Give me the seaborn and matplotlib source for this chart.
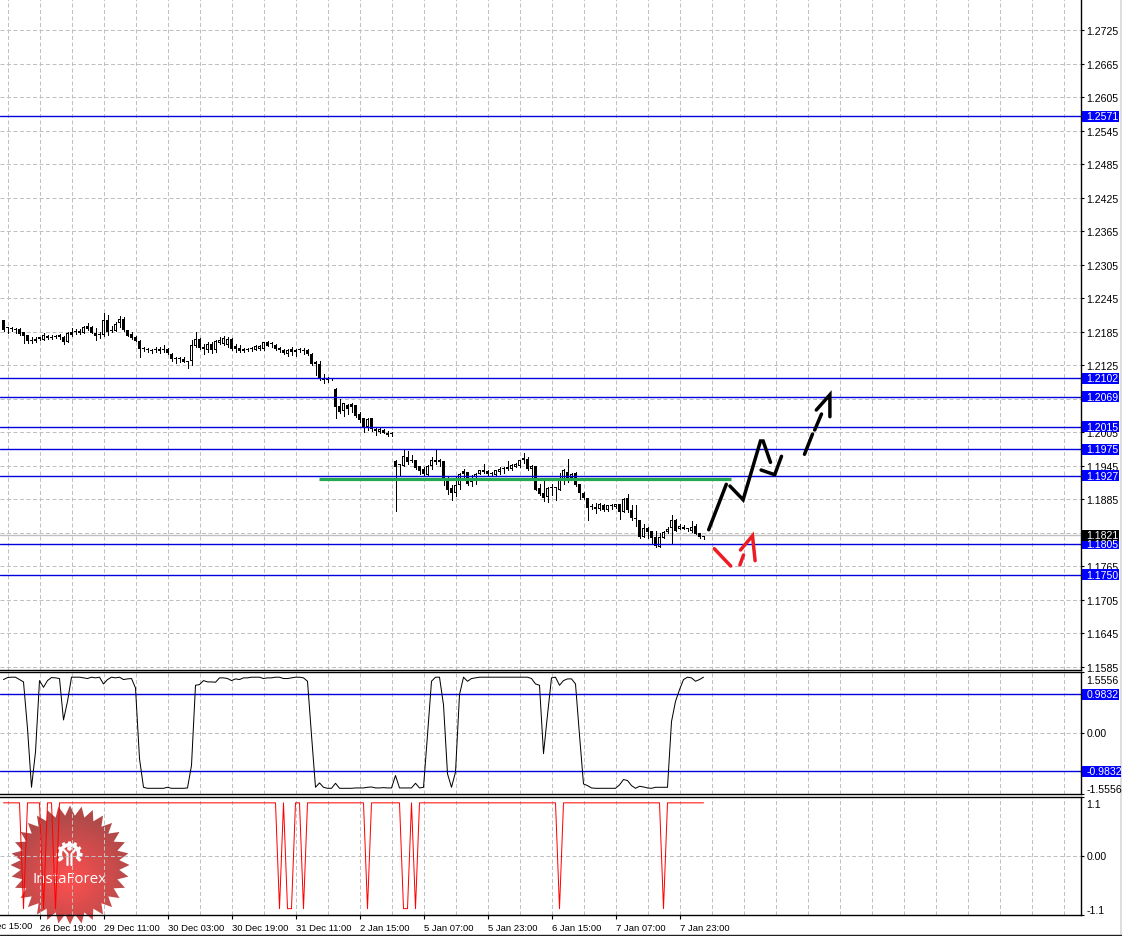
import numpy as np
import pandas as pd
import matplotlib
matplotlib.use("Agg")
import matplotlib.pyplot as plt
import seaborn as sns
from matplotlib.lines import Line2D
from matplotlib.patches import Polygon, Circle, Wedge, Rectangle
from matplotlib.transforms import ScaledTranslation

# hourly candles
opens = [
    1.2206, 1.2191, 1.2190, 1.2189, 1.2190, 1.2184, 1.2179, 1.2171, 1.2169, 1.2175,
    1.2171, 1.2178, 1.2176, 1.2178, 1.2179, 1.2175, 1.2167, 1.2180, 1.2184, 1.2186,
    1.2183, 1.2196, 1.2194, 1.2183, 1.2180, 1.2180, 1.2207, 1.2189, 1.2187, 1.2200,
    1.2208, 1.2188, 1.2181, 1.2175, 1.2169, 1.2154, 1.2153, 1.2153, 1.2154, 1.2154,
    1.2155, 1.2154, 1.2146, 1.2137, 1.2136, 1.2137, 1.2132, 1.2132, 1.2160, 1.2172,
    1.2157, 1.2152, 1.2164, 1.2152, 1.2165, 1.2164, 1.2161, 1.2172, 1.2159, 1.2156,
    1.2154, 1.2153, 1.2154, 1.2153, 1.2154, 1.2154, 1.2167, 1.2163, 1.2162, 1.2156,
    1.2153, 1.2145, 1.2154, 1.2153, 1.2152, 1.2153, 1.2153, 1.2146, 1.2131, 1.2127,
    1.2099, 1.2099, 1.2100, 1.2083, 1.2052, 1.2044, 1.2054, 1.2056, 1.2053, 1.2038,
    1.2030, 1.2014, 1.2030, 1.2011, 1.2005, 1.2009, 1.2004, 1.2002, 1.1953, 1.1946,
    1.1944, 1.1961, 1.1954, 1.1955, 1.1944, 1.1939, 1.1929, 1.1944, 1.1955, 1.1955,
    1.1953, 1.1919, 1.1905, 1.1896, 1.1911, 1.1935, 1.1933, 1.1916, 1.1925, 1.1931,
    1.1937, 1.1936, 1.1931, 1.1929, 1.1933, 1.1939, 1.1939, 1.1940, 1.1943, 1.1944,
    1.1959, 1.1957, 1.1939, 1.1944, 1.1906, 1.1897, 1.1889, 1.1905, 1.1906, 1.1901,
    1.1917, 1.1933, 1.1924, 1.1932, 1.1912, 1.1896, 1.1887, 1.1871, 1.1871, 1.1867,
    1.1874, 1.1865, 1.1873, 1.1871, 1.1877, 1.1862, 1.1887, 1.1866, 1.1850, 1.1847,
    1.1817, 1.1834, 1.1828, 1.1818, 1.1799, 1.1815, 1.1826, 1.1833, 1.1847, 1.1832,
    1.1836, 1.1831, 1.1828, 1.1838, 1.1824, 1.1820,
]
highs = [
    1.2206, 1.2194, 1.2194, 1.2192, 1.2191, 1.2185, 1.2180, 1.2175, 1.2175, 1.2176,
    1.2182, 1.2180, 1.2179, 1.2180, 1.2181, 1.2177, 1.2184, 1.2191, 1.2190, 1.2190,
    1.2195, 1.2200, 1.2195, 1.2191, 1.2185, 1.2219, 1.2215, 1.2195, 1.2202, 1.2214,
    1.2212, 1.2189, 1.2184, 1.2177, 1.2170, 1.2158, 1.2156, 1.2155, 1.2158, 1.2157,
    1.2161, 1.2156, 1.2147, 1.2140, 1.2140, 1.2139, 1.2132, 1.2171, 1.2185, 1.2174,
    1.2163, 1.2167, 1.2167, 1.2171, 1.2176, 1.2177, 1.2176, 1.2174, 1.2163, 1.2161,
    1.2156, 1.2156, 1.2157, 1.2161, 1.2162, 1.2167, 1.2169, 1.2166, 1.2164, 1.2158,
    1.2155, 1.2155, 1.2157, 1.2155, 1.2156, 1.2156, 1.2154, 1.2147, 1.2132, 1.2132,
    1.2109, 1.2104, 1.2100, 1.2084, 1.2065, 1.2057, 1.2055, 1.2058, 1.2054, 1.2042,
    1.2031, 1.2030, 1.2030, 1.2014, 1.2012, 1.2011, 1.2007, 1.2005, 1.1955, 1.1947,
    1.1973, 1.1971, 1.1964, 1.1955, 1.1945, 1.1943, 1.1947, 1.1961, 1.1973, 1.1957,
    1.1954, 1.1925, 1.1910, 1.1926, 1.1932, 1.1940, 1.1934, 1.1928, 1.1932, 1.1938,
    1.1948, 1.1938, 1.1934, 1.1938, 1.1942, 1.1943, 1.1953, 1.1948, 1.1950, 1.1956,
    1.1967, 1.1960, 1.1946, 1.1944, 1.1912, 1.1919, 1.1907, 1.1912, 1.1907, 1.1932,
    1.1939, 1.1957, 1.1932, 1.1933, 1.1913, 1.1898, 1.1888, 1.1877, 1.1879, 1.1879,
    1.1877, 1.1875, 1.1877, 1.1877, 1.1877, 1.1888, 1.1894, 1.1874, 1.1874, 1.1847,
    1.1841, 1.1836, 1.1829, 1.1829, 1.1824, 1.1829, 1.1835, 1.1857, 1.1849, 1.1840,
    1.1839, 1.1834, 1.1846, 1.1841, 1.1825, 1.1820,
]
lows = [
    1.2186, 1.2183, 1.2186, 1.2183, 1.2179, 1.2165, 1.2165, 1.2165, 1.2166, 1.2170,
    1.2170, 1.2172, 1.2172, 1.2173, 1.2172, 1.2163, 1.2167, 1.2177, 1.2181, 1.2181,
    1.2182, 1.2188, 1.2182, 1.2170, 1.2173, 1.2178, 1.2180, 1.2184, 1.2186, 1.2194,
    1.2186, 1.2177, 1.2172, 1.2168, 1.2140, 1.2150, 1.2149, 1.2147, 1.2149, 1.2147,
    1.2149, 1.2146, 1.2132, 1.2129, 1.2130, 1.2130, 1.2120, 1.2126, 1.2158, 1.2154,
    1.2145, 1.2149, 1.2147, 1.2148, 1.2163, 1.2161, 1.2158, 1.2152, 1.2149, 1.2148,
    1.2148, 1.2150, 1.2151, 1.2152, 1.2153, 1.2153, 1.2159, 1.2158, 1.2153, 1.2148,
    1.2146, 1.2142, 1.2143, 1.2141, 1.2148, 1.2146, 1.2144, 1.2126, 1.2107, 1.2098,
    1.2094, 1.2095, 1.2099, 1.2031, 1.2039, 1.2035, 1.2038, 1.2042, 1.2033, 1.2024,
    1.2005, 1.2009, 1.2008, 1.2001, 1.2004, 1.2003, 1.1999, 1.1999, 1.1864, 1.1928,
    1.1944, 1.1949, 1.1951, 1.1939, 1.1931, 1.1926, 1.1928, 1.1939, 1.1948, 1.1945,
    1.1910, 1.1895, 1.1883, 1.1890, 1.1904, 1.1919, 1.1910, 1.1908, 1.1912, 1.1930,
    1.1932, 1.1929, 1.1926, 1.1927, 1.1931, 1.1932, 1.1937, 1.1937, 1.1942, 1.1943,
    1.1950, 1.1938, 1.1925, 1.1901, 1.1892, 1.1882, 1.1880, 1.1892, 1.1884, 1.1901,
    1.1913, 1.1916, 1.1920, 1.1908, 1.1885, 1.1885, 1.1847, 1.1867, 1.1860, 1.1865,
    1.1864, 1.1864, 1.1868, 1.1870, 1.1850, 1.1862, 1.1863, 1.1848, 1.1838, 1.1816,
    1.1817, 1.1815, 1.1806, 1.1799, 1.1799, 1.1815, 1.1824, 1.1806, 1.1828, 1.1831,
    1.1831, 1.1828, 1.1826, 1.1822, 1.1816, 1.1813,
]
closes = [
    1.2188, 1.2191, 1.2190, 1.2189, 1.2181, 1.2178, 1.2169, 1.2168, 1.2172, 1.2172,
    1.2179, 1.2174, 1.2174, 1.2175, 1.2175, 1.2167, 1.2182, 1.2184, 1.2184, 1.2183,
    1.2194, 1.2190, 1.2183, 1.2178, 1.2180, 1.2206, 1.2185, 1.2187, 1.2199, 1.2208,
    1.2188, 1.2178, 1.2174, 1.2169, 1.2154, 1.2154, 1.2153, 1.2150, 1.2152, 1.2151,
    1.2152, 1.2147, 1.2136, 1.2137, 1.2136, 1.2131, 1.2130, 1.2161, 1.2172, 1.2156,
    1.2154, 1.2163, 1.2152, 1.2169, 1.2171, 1.2174, 1.2172, 1.2154, 1.2154, 1.2151,
    1.2150, 1.2153, 1.2154, 1.2159, 1.2159, 1.2166, 1.2160, 1.2163, 1.2154, 1.2152,
    1.2147, 1.2152, 1.2149, 1.2149, 1.2152, 1.2150, 1.2146, 1.2128, 1.2127, 1.2100,
    1.2099, 1.2099, 1.2100, 1.2051, 1.2042, 1.2057, 1.2046, 1.2050, 1.2035, 1.2027,
    1.2014, 1.2029, 1.2010, 1.2007, 1.2010, 1.2004, 1.2001, 1.2002, 1.1943, 1.1946,
    1.1962, 1.1951, 1.1954, 1.1941, 1.1935, 1.1931, 1.1945, 1.1955, 1.1951, 1.1952,
    1.1918, 1.1901, 1.1896, 1.1911, 1.1931, 1.1930, 1.1913, 1.1919, 1.1931, 1.1937,
    1.1934, 1.1930, 1.1931, 1.1937, 1.1940, 1.1939, 1.1943, 1.1946, 1.1948, 1.1955,
    1.1956, 1.1939, 1.1944, 1.1902, 1.1894, 1.1888, 1.1905, 1.1905, 1.1906, 1.1919,
    1.1937, 1.1919, 1.1931, 1.1910, 1.1896, 1.1887, 1.1869, 1.1871, 1.1867, 1.1876,
    1.1866, 1.1874, 1.1873, 1.1876, 1.1863, 1.1885, 1.1865, 1.1851, 1.1850, 1.1817,
    1.1834, 1.1826, 1.1816, 1.1801, 1.1817, 1.1826, 1.1832, 1.1848, 1.1829, 1.1837,
    1.1832, 1.1831, 1.1836, 1.1823, 1.1817, 1.1818,
]
osc_values = [
    1.351, 1.402, 1.411, 1.411, 1.351, 1.291, 0.111, -1.385, -0.487, 1.325,
    1.154, 1.325, 1.402, 1.394, 1.377, 0.325, 0.795, 1.411, 1.411, 1.411,
    1.394, 1.377, 1.411, 1.394, 1.411, 1.240, 1.351, 1.411, 1.394, 1.411,
    1.351, 1.368, 1.377, 1.137, -0.658, -1.385, -1.411, -1.411, -1.411, -1.411,
    -1.411, -1.385, -1.411, -1.411, -1.411, -1.411, -1.402, -0.829, 1.206, 1.223,
    1.325, 1.291, 1.291, 1.283, 1.394, 1.394, 1.377, 1.325, 1.368, 1.351,
    1.394, 1.394, 1.411, 1.411, 1.411, 1.377, 1.394, 1.394, 1.411, 1.411,
    1.377, 1.377, 1.394, 1.411, 1.411, 1.394, 1.308, -0.060, -1.385, -1.274,
    -1.385, -1.411, -1.411, -1.283, -1.411, -1.411, -1.411, -1.411, -1.402, -1.402,
    -1.402, -1.385, -1.377, -1.402, -1.402, -1.394, -1.402, -1.402, -1.086, -1.402,
    -1.402, -1.402, -1.402, -1.283, -1.402, -1.385, -0.060, 1.308, 1.411, 1.411,
    0.710, -1.043, -1.385, -1.000, 0.966, 1.411, 1.308, 1.377, 1.394, 1.411,
    1.411, 1.411, 1.411, 1.411, 1.411, 1.411, 1.411, 1.411, 1.411, 1.411,
    1.411, 1.411, 1.377, 1.240, 1.206, -0.530, 0.453, 1.394, 1.411, 1.206,
    1.325, 1.368, 1.368, 1.240, -0.060, -1.300, -1.342, -1.402, -1.411, -1.411,
    -1.411, -1.411, -1.411, -1.411, -1.325, -1.188, -1.214, -1.342, -1.411, -1.359,
    -1.377, -1.402, -1.411, -1.385, -1.385, -1.385, -1.385, 0.282, 0.795, 1.094,
    1.351, 1.411, 1.394, 1.308, 1.351, 1.411,
]
signal_values = [
    1, 1, 1, 1, 1, -1, 1, 1, 1, 1, -1, 1, 1, -1, 1, 1,
    1, 1, 1, 1, 1, 1, 1, 1, 1, 1, 1, 1, 1, 1, 1, 1,
    1, 1, 1, 1, 1, 1, 1, 1, 1, 1, 1, 1, 1, 1, 1, 1,
    1, 1, 1, 1, 1, 1, 1, 1, 1, 1, 1, 1, 1, 1, 1, 1,
    1, 1, 1, 1, 1, -1, 1, -1, -1, 1, 1, -1, 1, 1, 1, 1,
    1, 1, 1, 1, 1, 1, 1, 1, 1, 1, 1, -1, 1, 1, 1, 1,
    1, 1, 1, 1, -1, -1, 1, -1, 1, 1, 1, 1, 1, 1, 1, 1,
    1, 1, 1, 1, 1, 1, 1, 1, 1, 1, 1, 1, 1, 1, 1, 1,
    1, 1, 1, 1, 1, 1, 1, 1, 1, 1, 1, -1, 1, 1, 1, 1,
    1, 1, 1, 1, 1, 1, 1, 1, 1, 1, 1, 1, 1, 1, 1, 1,
    1, 1, 1, 1, 1, -1, 1, 1, 1, 1, 1, 1, 1, 1, 1, 1,
]

price_ticks = [1.2725, 1.2665, 1.2605, 1.2545, 1.2485, 1.2425, 1.2365, 1.2305, 1.2245, 1.2185,
               1.2125, 1.2065, 1.2005, 1.1945, 1.1885, 1.1825, 1.1765, 1.1705, 1.1645, 1.1585]
price_tick_labels = ["1.2725", "1.2665", "1.2605", "1.2545", "1.2485", "1.2425", "1.2365", "1.2305",
                     "1.2245", "1.2185", "1.2125", "", "1.2005", "1.1945", "1.1885", "", "1.1765",
                     "1.1705", "1.1645", "1.1585"]
price_levels = [1.2571, 1.2102, 1.2069, 1.2015, 1.1975, 1.1927, 1.1805, 1.1750]
bid_price = 1.1821
osc_levels = [0.9832, -0.9832]
time_bars = [9, 25, 41, 57, 73, 89, 105, 121, 137, 153, 169]
time_labels = ["26 Dec 19:00", "29 Dec 11:00", "30 Dec 03:00", "30 Dec 19:00", "31 Dec 11:00",
               "2 Jan 15:00", "5 Jan 07:00", "5 Jan 23:00", "6 Jan 15:00", "7 Jan 07:00", "7 Jan 23:00"]

# support zone and the hand drawn forecast arrows (bar number, price)
zone_bars = [78.75, 181.75]
zone_prices = [1.1922, 1.1922]
black_strokes = [
    ([176.3, 180.7], [1.18305, 1.19118]),
    ([181.6, 184.9, 189.25, 189.9, 191.75], [1.19088, 1.18842, 1.19894, 1.19894, 1.19512]),
    ([189.4, 192.8, 194.5], [1.19374, 1.1929, 1.1962]),
    ([200.25, 202.25], [1.19656, 1.20019]),
    ([202.8, 204.5], [1.20091, 1.20377]),
    ([203.2, 206.6, 206.6], [1.20449, 1.20723, 1.20329]),
]
red_strokes = [
    ([177.7, 181.8], [1.17965, 1.17655]),
    ([184.1, 185.0], [1.17673, 1.17852]),
    ([184.25, 187.25, 187.9], [1.17941, 1.18197, 1.1775]),
]

FIG_W, FIG_H = 1122, 937
PANEL_RIGHT = 1081
GRID = "#c0c0c0"
BLUE = "#0000dc"
FONT = "Liberation Sans"
FS = 7.6
TIME_FS = 6.8
ONE_PX_PRICE = 0.000179

sns.set_theme(style="white")
plt.rcParams["font.family"] = [FONT, "DejaVu Sans"]

candles = pd.DataFrame({"open": opens, "high": highs, "low": lows, "close": closes})
candles["bar"] = np.arange(len(candles))
candles["osc"] = osc_values
candles["signal"] = signal_values


def panel(fig, top, bottom):
    ax = fig.add_axes([0, 1 - bottom / FIG_H, PANEL_RIGHT / FIG_W, (bottom - top) / FIG_H])
    ax.set_xlim(-0.875, 269.375)
    ax.patch.set_visible(False)
    ax.set_zorder(2)
    for side in ["left", "top", "right", "bottom"]:
        ax.spines[side].set_visible(side != "left")
        ax.spines[side].set_color("black")
        ax.spines[side].set_linewidth(1.0)
    ax.yaxis.tick_right()
    ax.tick_params(axis="y", which="both", left=False, right=True, length=2.2, width=0.8, pad=1.5,
                   color="black", labelsize=FS, labelcolor="black")
    ax.vlines(np.arange(1, 266, 8), 0, 1, transform=ax.get_xaxis_transform(), colors=GRID,
              linewidth=0.72, linestyles=[(0, (4, 2.5))], zorder=1)
    ax.set_xticks([])
    ax.set_xlabel("")
    ax.set_ylabel("")
    return ax


def level_box(ax, y, text, color, width=36.5):
    y0, y1 = ax.get_ylim()
    px_h = ax.get_position().height * FIG_H
    h = 11.0 * (y1 - y0) / px_h
    ax.add_patch(Rectangle((1082 / PANEL_RIGHT, y - h / 2), width / PANEL_RIGHT, h,
                           transform=ax.get_yaxis_transform(), fc=color, ec="none", zorder=8, clip_on=False))
    ax.text(1086.5 / PANEL_RIGHT, y, text, transform=ax.get_yaxis_transform(), ha="left", va="center",
            fontsize=FS, color="white", zorder=9, clip_on=False)


def nudge_labels(fig, labels, px_down):
    for lab, d in zip(labels, px_down):
        lab.set_transform(lab.get_transform() + ScaledTranslation(0, -d / 100, fig.dpi_scale_trans))


fig = plt.figure(figsize=(FIG_W / 100, FIG_H / 100), dpi=100, facecolor="white")

# watermark sits behind all the panels
ax_logo = fig.add_axes([0, 0, 1, 1])
ax_logo.set_xlim(0, FIG_W)
ax_logo.set_ylim(FIG_H, 0)
ax_logo.axis("off")
ax_logo.set_zorder(1)
n_teeth = 32
angles = np.linspace(0, 2 * np.pi, 2 * n_teeth, endpoint=False)
radii = np.where(np.arange(2 * n_teeth) % 2 == 0, 59.5, 49.5)
star = Polygon(np.c_[70 + radii * np.cos(angles), 866 + radii * np.sin(angles)], closed=True,
               fc="none", ec="none", transform=ax_logo.transData)
ax_logo.add_patch(star)
xx, yy = np.meshgrid(np.arange(5, 136), np.arange(801, 932))
rr = np.clip(np.hypot(xx - 70, yy - 880) / 62, 0, 1)
shade = np.dstack([1.0 - 0.30 * rr, 0.31 - 0.02 * rr, 0.31 - 0.02 * rr])
img = ax_logo.imshow(shade, extent=(5, 136, 932, 801), aspect="auto", zorder=1)
img.set_clip_path(star)
ax_logo.set_xlim(0, FIG_W)
ax_logo.set_ylim(FIG_H, 0)
gear = np.linspace(0, 2 * np.pi, 24, endpoint=False)
for a in gear[[0, 2, 4, 6, 8, 10, 12, 14, 16, 18, 20, 22]]:
    if 0.6 < a < 2.5:
        continue
    ax_logo.plot([69.5 + 10 * np.cos(a), 69.5 + 13 * np.cos(a)], [855 + 10 * np.sin(a), 855 + 13 * np.sin(a)],
                 color="white", lw=2.2, solid_capstyle="butt", zorder=2)
ax_logo.add_patch(Wedge((69.5, 855), 11, 142, 35, width=3.6, fc="white", ec="none", zorder=2))
ax_logo.add_patch(Circle((69.5, 849.5), 2.3, fc="white", ec="none", zorder=3))
ax_logo.plot([64, 67.5, 67.5], [851, 855, 866], color="white", lw=1.6, zorder=3)
ax_logo.plot([75, 71.5, 71.5], [851, 855, 866], color="white", lw=1.6, zorder=3)
ax_logo.text(69.5, 880, "InstaForex", color="white", fontsize=10.9, family="Open Sans",
             ha="center", va="center", zorder=4)

# price panel
ax_price = panel(fig, 0, 670.5)
ax_price.spines["top"].set_visible(False)
ax_price.set_ylim(1.15801, 1.27811)
ax_price.hlines(price_ticks, 0, 1, transform=ax_price.get_yaxis_transform(), colors=GRID,
                linewidth=0.72, linestyles=[(0, (4, 2.5))], zorder=1)
ax_price.axhline(bid_price, color=GRID, lw=1.0, zorder=1)
wicks = ax_price.vlines(candles["bar"], candles["low"], candles["high"], colors="black", linewidth=0.72, zorder=3)
wicks.set_antialiased(False)
# black block 3 px wide, bullish candles get a 1 px white core
body_low = candles[["open", "close"]].min(axis=1)
body_height = (candles["close"] - candles["open"]).abs().clip(lower=ONE_PX_PRICE)
ax_price.bar(candles["bar"], body_height, bottom=body_low, width=0.75, color="black", linewidth=0,
             zorder=4, antialiased=False)
bullish = (candles["close"] > candles["open"]) & (body_height > 2.5 * ONE_PX_PRICE)
ax_price.bar(candles["bar"][bullish], body_height[bullish] - 2 * ONE_PX_PRICE,
             bottom=body_low[bullish] + ONE_PX_PRICE, width=0.25, color="white", linewidth=0,
             zorder=4.5, antialiased=False)
sns.lineplot(x=zone_bars, y=zone_prices, color="#22a84f", linewidth=2.3, ax=ax_price, zorder=5,
             solid_capstyle="butt", legend=False)
for level in price_levels:
    ax_price.axhline(level, color=BLUE, lw=1.0, zorder=6)
    level_box(ax_price, level, f"{level:.4f}", "#0000ff")
level_box(ax_price, bid_price, f"{bid_price:.4f}", "black")
for xs, ys in black_strokes:
    sns.lineplot(x=xs, y=ys, sort=False, estimator=None, color="black", linewidth=2.5, ax=ax_price, zorder=7,
                 solid_capstyle="round", solid_joinstyle="miter", legend=False)
for xs, ys in red_strokes:
    sns.lineplot(x=xs, y=ys, sort=False, estimator=None, color="#ed1c24", linewidth=2.5, ax=ax_price, zorder=7,
                 solid_capstyle="round", solid_joinstyle="miter", legend=False)
ax_price.set_yticks(price_ticks)
ax_price.set_yticklabels(price_tick_labels)
ax_price.set_xlabel("")
ax_price.set_ylabel("")

# oscillator panel
ax_osc = panel(fig, 672.5, 795)
ax_osc.set_ylim(-1.5556, 1.5556)
ax_osc.axhline(0, color=GRID, lw=0.72, ls=(0, (4, 2.5)), zorder=1)
for level, w in zip(osc_levels, [36.5, 38.5]):
    ax_osc.axhline(level, color=BLUE, lw=1.0, zorder=3)
    level_box(ax_osc, level, f"{level:.4f}", "#0000ff", width=w)
sns.lineplot(data=candles, x="bar", y="osc", color="black", linewidth=0.72, ax=ax_osc, zorder=4,
             estimator=None, legend=False)
ax_osc.set_yticks([1.5556, 0, -1.5556])
ax_osc.set_yticklabels(["1.5556", "0.00", "-1.5556"])
for lab, va in zip(ax_osc.get_yticklabels(), ["top", "center", "bottom"]):
    lab.set_va(va)
nudge_labels(fig, ax_osc.get_yticklabels(), [3, 0, 0])
ax_osc.set_xlabel("")
ax_osc.set_ylabel("")

# signal panel
ax_sig = panel(fig, 797.5, 916)
ax_sig.set_ylim(-1.12, 1.12)
ax_sig.axhline(0, color=GRID, lw=0.72, ls=(0, (4, 2.5)), zorder=1)
sns.lineplot(data=candles, x="bar", y="signal", color="#ff0000", linewidth=0.72, ax=ax_sig, zorder=4,
             estimator=None, legend=False)
ax_sig.set_yticks([1.12, 0, -1.12])
ax_sig.set_yticklabels(["1.1", "0.00", "-1.1"])
for lab, va in zip(ax_sig.get_yticklabels(), ["top", "center", "bottom"]):
    lab.set_va(va)
nudge_labels(fig, ax_sig.get_yticklabels(), [3, 0, 0])
ax_sig.set_xticks(time_bars)
ax_sig.set_xticklabels(time_labels, ha="left", fontsize=TIME_FS, color="black")
ax_sig.tick_params(axis="x", bottom=True, length=3, width=0.8, pad=3, color="black")
ax_sig.text(-7, -0.05, "24 Dec 15:00", transform=ax_sig.get_xaxis_transform(), ha="left", va="top",
            fontsize=TIME_FS, color="black", clip_on=False)
ax_sig.set_xlabel("")
ax_sig.set_ylabel("")

# terminal window edges
fig.add_artist(Line2D([1120.5 / FIG_W] * 2, [0, 1], color="#d8d8d8", lw=1.2))
fig.add_artist(Line2D([0, 1120.5 / FIG_W], [1 - 935.5 / FIG_H] * 2, color="#202020", lw=1.0))

fig.savefig("out.png", dpi=100, facecolor="white")
